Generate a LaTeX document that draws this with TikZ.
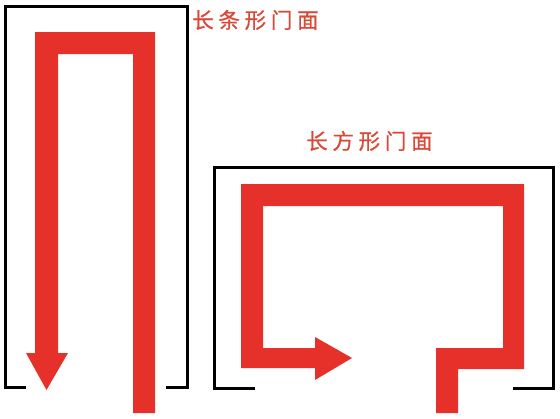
\documentclass[tikz,border=0pt]{standalone}
\usepackage{fontspec}
\newfontfamily\cjk[LetterSpace=22,FakeBold=0.8]{Noto Sans CJK SC}
\definecolor{arrowred}{RGB}{230,48,42}
\definecolor{labelred}{RGB}{218,72,56}
\begin{document}
\begin{tikzpicture}[x=1pt,y=-1pt,
  frame/.style={draw=black,line width=3pt,line join=miter},
  flow/.style={fill=arrowred,draw=none},
  label/.style={text=labelred,font=\cjk\fontsize{21.5}{21.5}\selectfont,inner sep=0pt,anchor=west}]
\useasboundingbox (0,0) rectangle (560,418);
% left frame
\draw[frame] (26,387) -- (5,387) -- (5,6) -- (187,6) -- (187,387) -- (166,387);
% left flow
\fill[flow] (155,413) -- (155,32) -- (35,32) -- (35,353) -- (26,353) -- (46.5,390)
  -- (68,353) -- (58,353) -- (58,54) -- (133,54) -- (133,413) -- cycle;
% right frame
\draw[frame] (255,388) -- (214,388) -- (214,167) -- (553,167) -- (553,388) -- (513,388);
% right flow
\fill[flow] (458,413) -- (458,369) -- (524,369) -- (524,184) -- (241,184) -- (241,368)
  -- (315,368) -- (315,380) -- (352,358) -- (315,337) -- (315,348) -- (263,348)
  -- (263,206) -- (503,206) -- (503,348) -- (436,348) -- (436,413) -- cycle;
\node[label] (t1) at (192,20) {长条形门面};
\node[label] (t2) at (306,141) {长方形门面};
\end{tikzpicture}
\end{document}
